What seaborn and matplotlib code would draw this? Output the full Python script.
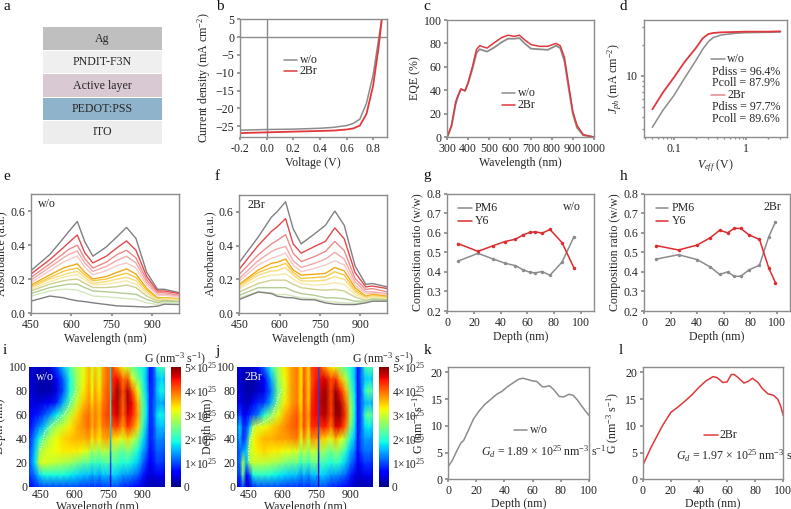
import matplotlib
matplotlib.use("Agg")
import matplotlib.pyplot as plt
import seaborn as sns
import numpy as np
from matplotlib.lines import Line2D
from matplotlib.patches import Rectangle
from matplotlib.ticker import FixedLocator, FixedFormatter, NullFormatter

W, H = 791, 509
FS = 8.6
GREY = "#8c8c8c"
RED = "#e0383c"
DARK = "#262626"

# panel a
layer_names = ["Ag", "PNDIT-F3N", "Active layer", "PEDOT:PSS", "ITO"]
layer_colors = ["#bfbfbf", "#efefef", "#d8c9d3", "#8fb3cb", "#ededed"]

# panel b
v_wo = [-0.2, 0, 0.2, 0.4, 0.5, 0.6, 0.65, 0.7, 0.75, 0.8, 0.84, 0.86, 0.875]
j_wo = [-26.1, -25.9, -25.8, -25.55, -25.3, -24.8, -24.2, -23.0, -18.5, -10.5, -0.8, 4, 8]
v_br = [-0.2, 0, 0.2, 0.4, 0.5, 0.6, 0.65, 0.7, 0.75, 0.8, 0.84, 0.86, 0.875]
j_br = [-26.9, -26.7, -26.5, -26.3, -26.2, -25.9, -25.6, -24.8, -21.5, -13.5, -3.0, 3.5, 8]

# panel c
eqe_nm = [300, 320, 340, 350, 365, 385, 400, 420, 440, 455, 490, 520, 560, 590, 620, 645, 670, 700,
          740, 780, 820, 840, 860, 880, 900, 920, 950, 1000]
eqe_wo = [0, 9, 28, 34, 41, 39.5, 46, 58, 72, 75, 73, 76, 81, 84, 84, 84.5, 80, 75.5, 75, 74.5,
          78, 76, 65, 42, 20, 8, 1.5, 0]
eqe_br = [0, 10, 30, 35, 41, 39.5, 47, 60, 75, 78, 76, 80, 85, 87, 86, 87, 83, 79, 77.5, 77.5,
          80, 78, 68, 45, 22, 10, 2, 0]

# panel d
veff = [0.05, 0.07, 0.1, 0.14, 0.2, 0.25, 0.3, 0.35, 0.45, 0.7, 1, 2, 3]
jph_wo = [3.14, 4.6, 6.46, 9.5, 14.1, 18.3, 21.7, 23.8, 25.2, 26.2, 26.6, 26.8, 27]
jph_br = [4.7, 6.87, 9.7, 13.7, 18.7, 23.4, 25.8, 26.4, 26.8, 27, 27.2, 27.2, 27.4]

# panels e, f
abs_nm = [450, 520, 570, 590, 622, 650, 680, 730, 770, 805, 840, 880, 920, 945, 1000]
abs_colors = ["#808080", "#e0484c", "#ee8a8a", "#f4a9a9", "#f8c8c8", "#f0a818", "#f5c842", "#f8dc80",
              "#f7e8a8", "#ccd08c", "#b4cc94", "#d4e6bc", "#7f7f7f"]
abs_wo = [
    [.25, .345, .44, .48, .54, .42, .335, .39, .45, .505, .44, .24, .14, .14, .12],
    [.23, .315, .385, .415, .46, .355, .295, .335, .385, .425, .37, .215, .13, .13, .115],
    [.21, .29, .35, .375, .40, .32, .265, .30, .345, .37, .325, .195, .12, .12, .105],
    [.195, .27, .325, .345, .365, .295, .245, .275, .31, .335, .295, .18, .11, .11, .10],
    [.18, .25, .30, .315, .335, .27, .225, .25, .28, .295, .265, .165, .105, .105, .095],
    [.165, .225, .265, .275, .29, .24, .20, .215, .24, .26, .23, .145, .09, .09, .085],
    [.155, .21, .245, .255, .265, .225, .19, .20, .22, .235, .21, .135, .085, .09, .08],
    [.15, .20, .225, .235, .245, .21, .175, .185, .20, .21, .19, .125, .08, .085, .08],
    [.14, .185, .21, .22, .225, .195, .165, .17, .18, .19, .17, .115, .075, .08, .075],
    [.13, .17, .19, .195, .20, .175, .15, .15, .155, .165, .15, .10, .07, .075, .07],
    [.115, .15, .165, .17, .17, .15, .13, .125, .12, .115, .11, .08, .06, .07, .065],
    [.10, .13, .14, .14, .135, .12, .10, .095, .09, .085, .08, .06, .05, .06, .06],
    [.07, .10, .09, .082, .072, .067, .06, .05, .042, .04, .038, .035, .04, .052, .05],
]
abs_br = [
    [.30, .45, .57, .60, .66, .50, .41, .47, .52, .605, .52, .28, .17, .175, .155],
    [.26, .40, .485, .51, .56, .41, .355, .395, .425, .505, .44, .24, .155, .16, .145],
    [.23, .345, .41, .43, .465, .355, .305, .335, .365, .425, .37, .205, .14, .145, .125],
    [.205, .31, .365, .38, .395, .31, .27, .295, .32, .36, .32, .185, .125, .125, .115],
    [.19, .285, .325, .335, .355, .285, .245, .265, .285, .31, .285, .165, .115, .115, .11],
    [.17, .255, .295, .30, .32, .255, .225, .23, .235, .27, .25, .15, .10, .11, .10],
    [.165, .24, .27, .275, .295, .24, .205, .21, .215, .245, .225, .135, .095, .105, .095],
    [.155, .225, .25, .25, .27, .225, .19, .19, .195, .215, .20, .125, .09, .10, .09],
    [.145, .205, .225, .225, .235, .20, .175, .165, .17, .18, .17, .11, .085, .095, .085],
    [.125, .175, .195, .195, .195, .17, .15, .14, .135, .14, .13, .095, .075, .085, .08],
    [.105, .15, .15, .15, .15, .13, .115, .105, .09, .09, .085, .07, .07, .08, .075],
    [.09, .125, .12, .11, .11, .10, .09, .085, .07, .065, .06, .058, .065, .075, .07],
    [.08, .125, .115, .10, .092, .09, .08, .078, .06, .052, .05, .05, .06, .07, .07],
]

# panels g, h
depth_g = [8, 23, 34, 43, 51, 57, 62, 66, 71, 77, 86, 95]
pm6_g = [.455, .495, .467, .445, .432, .41, .398, .395, .402, .383, .45, .58]
y6_g = [.545, .505, .533, .555, .567, .59, .602, .605, .598, .617, .55, .42]
depth_h = [9, 26, 40, 50, 57, 63, 68, 73, 79, 87, 94, 99]
pm6_h = [.465, .488, .463, .425, .387, .40, .377, .378, .41, .434, .58, .655]
y6_h = [.535, .512, .537, .575, .613, .60, .623, .622, .59, .566, .42, .345]

# panels i, j: one row per wavelength, depth 0..100 in steps of 10, unit 1e25
map_depth = [0, 10, 20, 30, 40, 50, 60, 70, 80, 90, 100]
map_nm_wo = [400, 425, 445, 465, 490, 520, 550, 580, 610, 640, 665, 678, 690, 710, 725, 745, 755,
             760, 766, 790, 815, 835, 855, 880, 900, 920, 932, 948, 965, 985, 1000]
map_wo = [
    [.6, .9, 1.0, .9, .8, .6, .5, .5, .4, .4, .4],
    [.8, 1.2, 1.7, 1.6, 1.4, 1.0, .7, .4, .3, .3, .3],
    [.9, 1.7, 3.0, 2.6, 1.9, 1.3, .8, .4, .2, .2, .3],
    [1.0, 1.9, 3.1, 3.0, 2.5, 1.6, 1.0, .5, .2, .2, .3],
    [1.0, 1.9, 3.0, 3.1, 2.9, 2.3, 1.3, .5, .2, .2, .4],
    [1.0, 1.9, 2.9, 3.2, 3.2, 2.8, 1.8, .8, .4, .5, .9],
    [1.0, 1.9, 2.8, 3.3, 3.4, 3.0, 2.4, 1.5, 1.0, 1.1, 1.6],
    [1.0, 1.8, 2.7, 3.3, 3.5, 3.3, 2.9, 2.3, 1.9, 1.9, 2.2],
    [1.0, 1.7, 2.5, 3.3, 3.6, 3.6, 3.4, 3.0, 2.7, 2.7, 2.8],
    [.9, 1.6, 2.3, 3.2, 3.6, 3.8, 3.8, 3.5, 3.3, 3.2, 3.1],
    [.9, 1.6, 2.3, 3.0, 3.7, 4.0, 4.0, 3.8, 3.7, 3.6, 3.6],
    [.8, 1.4, 2.0, 2.6, 3.3, 3.6, 3.6, 3.4, 3.2, 3.1, 3.0],
    [.9, 1.6, 2.2, 2.9, 3.6, 3.9, 3.9, 3.8, 3.7, 3.6, 3.5],
    [.8, 1.4, 2.0, 2.6, 3.3, 3.5, 3.6, 3.5, 3.3, 3.1, 3.0],
    [.9, 1.6, 2.2, 2.9, 3.6, 3.9, 4.0, 3.9, 3.8, 3.7, 3.7],
    [.9, 1.6, 2.2, 2.8, 3.7, 4.0, 4.2, 4.1, 4.1, 4.0, 4.0],
    [.9, 1.6, 2.2, 2.8, 3.6, 4.0, 4.2, 4.2, 4.1, 4.0, 4.0],
    [.3, .6, .9, 1.2, 1.5, 1.7, 1.9, 1.9, 1.8, 1.7, 1.7],
    [1.0, 1.7, 2.2, 2.7, 3.4, 4.1, 4.4, 4.5, 4.3, 4.3, 4.2],
    [1.0, 1.6, 2.1, 2.5, 3.3, 4.2, 4.7, 4.8, 4.9, 4.5, 3.7],
    [.8, 1.4, 1.9, 2.3, 3.0, 3.7, 4.0, 4.0, 4.1, 3.9, 3.1],
    [.8, 1.4, 2.0, 2.6, 3.4, 4.3, 4.6, 4.8, 4.8, 4.1, 3.0],
    [.7, 1.3, 1.8, 2.3, 3.0, 4.0, 4.4, 4.5, 4.1, 3.1, 2.4],
    [.6, 1.1, 1.6, 1.9, 2.5, 3.4, 3.7, 3.6, 3.2, 2.5, 2.1],
    [.4, .8, 1.2, 1.5, 1.8, 2.2, 2.4, 2.4, 2.2, 2.0, 1.9],
    [.3, .5, .8, 1.1, 1.3, 1.5, 1.7, 1.7, 1.6, 1.5, 1.6],
    [.2, .4, .6, .7, .8, .8, .8, .8, .8, .7, .7],
    [.2, .4, .7, .8, .9, .9, 1.0, 1.0, .9, .9, .9],
    [.2, .5, .9, 1.1, 1.3, 1.5, 1.7, 1.4, 1.6, 1.5, 1.9],
    [.2, .5, .9, 1.1, 1.3, 1.6, 1.9, 1.5, 1.9, 1.7, 2.2],
    [.2, .5, .8, 1.0, 1.2, 1.5, 1.7, 1.3, 1.7, 1.5, 2.0],
]
map_nm_br = [400, 412, 425, 440, 455, 470, 490, 520, 550, 580, 610, 640, 665, 683, 695, 715, 728,
             748, 755, 760, 766, 790, 815, 835, 855, 880, 900, 920, 932, 948, 965, 985, 1000]
map_br = [
    [.5, .9, 1.0, .9, 1.0, 1.1, .7, .5, .4, .4, .5],
    [.6, .9, 1.2, 1.1, 1.5, 1.7, 1.0, .5, .4, .3, .4],
    [1.0, 2.4, 2.9, 1.4, .8, .9, .6, .3, .3, .3, .3],
    [.3, .6, 1.5, 1.6, 1.2, .9, .6, .3, .2, .2, .3],
    [.4, 1.0, 2.7, 2.9, 2.6, 1.6, .8, .3, .2, .2, .3],
    [.8, 1.9, 3.0, 3.1, 3.2, 2.8, 1.0, .6, .2, .2, .4],
    [1.0, 2.0, 2.9, 3.3, 3.4, 3.1, 1.2, .8, .3, .3, .5],
    [1.0, 2.0, 2.9, 3.4, 3.6, 3.2, 2.0, .9, .5, .6, 1.2],
    [1.0, 1.9, 2.8, 3.3, 3.6, 3.4, 2.6, 1.5, 1.2, 1.5, 2.0],
    [1.0, 1.8, 2.7, 3.3, 3.7, 3.6, 3.1, 2.6, 2.4, 2.6, 2.8],
    [.9, 1.7, 2.5, 3.2, 3.7, 3.8, 3.6, 3.3, 3.1, 3.2, 3.3],
    [.9, 1.6, 2.4, 3.1, 3.8, 4.0, 3.9, 3.7, 3.7, 3.7, 3.7],
    [.9, 1.6, 2.4, 3.1, 3.9, 4.1, 4.1, 3.9, 3.9, 3.9, 3.9],
    [.8, 1.3, 2.0, 2.6, 3.1, 3.5, 3.5, 3.3, 3.3, 3.3, 3.3],
    [.9, 1.6, 2.4, 3.0, 3.8, 4.2, 4.2, 4.2, 4.2, 4.1, 4.1],
    [.8, 1.3, 2.0, 2.6, 3.0, 3.5, 3.6, 3.4, 3.4, 3.4, 3.4],
    [.9, 1.6, 2.4, 3.0, 3.8, 4.3, 4.4, 4.3, 4.2, 4.1, 4.2],
    [.9, 1.6, 2.4, 2.9, 3.7, 4.3, 4.5, 4.5, 4.5, 4.4, 4.3],
    [.9, 1.6, 2.4, 2.9, 3.7, 4.3, 4.5, 4.5, 4.5, 4.4, 4.3],
    [.2, .4, .6, .8, .9, 1.0, 1.0, 1.0, 1.0, 1.0, 1.0],
    [1.0, 1.7, 2.2, 2.8, 3.5, 4.3, 4.6, 4.7, 4.6, 4.5, 4.2],
    [1.0, 1.6, 2.1, 2.6, 3.4, 4.4, 4.8, 4.9, 4.9, 4.6, 3.7],
    [.8, 1.4, 1.9, 2.4, 3.1, 3.9, 4.2, 4.2, 4.2, 4.1, 3.3],
    [.8, 1.4, 2.1, 2.7, 3.6, 4.6, 4.9, 5.0, 4.9, 4.3, 3.1],
    [.7, 1.3, 1.9, 2.5, 3.2, 4.5, 4.9, 4.8, 4.4, 3.6, 2.6],
    [.6, 1.1, 1.6, 2.0, 2.7, 3.9, 4.2, 4.0, 3.6, 2.9, 2.2],
    [.4, .8, 1.2, 1.5, 1.9, 2.5, 2.8, 2.7, 2.4, 2.1, 1.9],
    [.3, .5, .9, 1.2, 1.5, 1.7, 1.8, 1.8, 1.7, 1.6, 1.6],
    [.2, .4, .5, .6, .7, .7, .7, .7, .7, .7, .7],
    [.2, .4, .7, 1.0, 1.1, 1.1, 1.1, 1.1, 1.1, 1.2, 1.2],
    [.2, .5, .9, 1.2, 1.4, 1.7, 2.1, 1.5, 2.0, 1.6, 2.1],
    [.2, .5, .9, 1.2, 1.4, 1.8, 2.5, 1.6, 2.5, 1.7, 2.4],
    [.2, .4, .8, 1.1, 1.3, 1.6, 2.0, 1.4, 2.0, 1.5, 2.0],
]
edge_nm_wo = [447, 457, 469, 499, 528, 558, 587, 609]
edge_depth_wo = [31, 36, 46, 51, 56, 61, 72, 81]
edge_nm_br = [450, 450, 472, 509, 553, 583, 597]
edge_depth_br = [22, 33, 50, 53, 58, 75, 81]

# panels k, l
depth_k = [0, 3, 6, 9, 11, 14, 18, 22, 26, 30, 35, 38, 42, 46, 50, 53, 56, 60, 63, 67, 69, 72, 75, 79,
           82, 86, 89, 92, 95, 100]
g_k = [2.4, 3.6, 5.3, 6.8, 7.3, 9, 11.3, 12.8, 14, 14.9, 16, 16.4, 17.3, 18, 18.7, 18.9, 18.7, 18.4, 18.3,
       17.3, 17.3, 17.5, 16.8, 15.5, 15.4, 15.9, 15.7, 14.8, 13.7, 12]
depth_l = [0, 3, 6, 10, 14, 20, 25, 30, 35, 40, 45, 50, 53, 57, 60, 63, 65, 68, 72, 75, 78, 82, 85, 89,
           93, 96, 98, 100]
g_l = [2.6, 4.3, 6, 8, 10, 12.5, 13.5, 14.6, 15.8, 17.2, 18.4, 19.2, 19, 18.1, 18.2, 19.6, 19.6, 19, 18,
       18.3, 18.9, 18.1, 17, 16, 15.7, 15, 13.8, 11.9]

sns.set_theme(style="ticks")
plt.rcParams.update({
    "font.family": ["Liberation Serif", "DejaVu Serif"],
    "font.size": FS,
    "mathtext.fontset": "custom",
    "mathtext.rm": "Liberation Serif",
    "mathtext.it": "Liberation Serif:italic",
    "mathtext.bf": "Liberation Serif:bold",
    "axes.edgecolor": GREY,
    "axes.linewidth": 1.0,
    "xtick.color": GREY,
    "ytick.color": GREY,
    "xtick.labelcolor": DARK,
    "ytick.labelcolor": DARK,
    "xtick.major.size": 2.5,
    "ytick.major.size": 2.5,
    "xtick.major.pad": 1.5,
    "ytick.major.pad": 1.5,
    "axes.labelpad": 2,
    "axes.labelsize": FS,
    "xtick.labelsize": FS,
    "ytick.labelsize": FS,
    "axes.labelcolor": DARK,
})

fig = plt.figure(figsize=(W / 100, H / 100), dpi=100)


def fx(x):
    return x / W


def fy(y):
    return 1 - y / H


def make_ax(x0, x1, y0, y1):
    return fig.add_axes([fx(x0), fy(y1), (x1 - x0) / W, (y1 - y0) / H])


def put(x, y, s, **kw):
    kw.setdefault("fontsize", FS)
    kw.setdefault("color", DARK)
    kw.setdefault("va", "center")
    fig.text(fx(x), fy(y), s, **kw)


def key(x0, x1, y, color, text, tx, marker=None):
    fig.add_artist(Line2D([fx(x0), fx(x1)], [fy(y), fy(y)], color=color, lw=1.1, marker=marker, ms=2,
                          markevery=[1] if False else None, transform=fig.transFigure))
    put(tx, y, text)


def line(ax, x, y, color, lw=1.1, **kw):
    sns.lineplot(x=x, y=y, color=color, lw=lw, ax=ax, errorbar=None, sort=False, **kw)


# letters
for letter, lx, ly in [("a", 3, 7), ("b", 216, 6), ("c", 423, 6), ("d", 620, 6),
                       ("e", 3, 176), ("f", 215, 176), ("g", 423, 176), ("h", 620, 176),
                       ("i", 3, 351), ("j", 215, 351), ("k", 424, 351), ("l", 619, 351)]:
    put(lx, ly, letter, fontsize=11, color="#111111")

# a: device stack
ax = make_ax(43, 162, 27, 144)
ax.set_xlim(0, 1)
ax.set_ylim(len(layer_names), 0)
ax.axis("off")
for i, (name, col) in enumerate(zip(layer_names, layer_colors)):
    ax.add_patch(Rectangle((0, i + 0.015), 1, 0.97, color=col, lw=0))
    ax.text(0.5, i + 0.5, name, ha="center", va="center", color=DARK, fontsize=FS)

# b
ax = make_ax(240, 386.5, 19.3, 137)
ax.axhline(0, color=GREY, lw=1)
ax.axvline(0, color=GREY, lw=1)
line(ax, v_wo, j_wo, GREY)
line(ax, v_br, j_br, RED, lw=1.3)
ax.set_xlim(-0.2, 0.9)
ax.set_ylim(-28, 5)
ax.set_xticks([-0.2, 0, 0.2, 0.4, 0.6, 0.8])
ax.set_xticklabels(["-0.2", "0.0", "0.2", "0.4", "0.6", "0.8"])
ax.set_yticks([5, 0, -5, -10, -15, -20, -25])
ax.set_xlabel("Voltage (V)")
ax.set_ylabel("Current density (mA cm$^{-2}$)")
key(284, 297, 60, GREY, "w/o", 300)
key(284, 297, 71, RED, "2Br", 300)

# c
ax = make_ax(447.3, 593.7, 20, 137)
line(ax, eqe_nm, eqe_wo, GREY, lw=1.3)
line(ax, eqe_nm, eqe_br, RED)
ax.set_xlim(300, 1000)
ax.set_ylim(0, 100)
ax.set_xticks(range(300, 1001, 100))
ax.set_yticks(range(0, 101, 20))
ax.set_xlabel("Wavelength (nm)")
ax.set_ylabel("EQE (%)")
key(502, 515, 93, GREY, "w/o", 518)
key(502, 515, 105, RED, "2Br", 518)

# d
ax = make_ax(644, 786.7, 20, 137)
line(ax, veff, jph_wo, GREY)
line(ax, veff, jph_br, RED, lw=1.3)
ax.set_xscale("log")
ax.set_yscale("log")
ax.set_xlim(0.0383, 3.67)
ax.set_ylim(2.52, 35.4)
ax.xaxis.set_major_locator(FixedLocator([0.1, 1]))
ax.xaxis.set_major_formatter(FixedFormatter(["0.1", "1"]))
ax.xaxis.set_minor_locator(FixedLocator([0.04, 0.05, 0.06, 0.07, 0.08, 0.09, 0.2, 0.3, 0.4, 0.5, 0.6, 0.7, 0.8, 0.9, 2, 3]))
ax.xaxis.set_minor_formatter(NullFormatter())
ax.yaxis.set_major_locator(FixedLocator([10]))
ax.yaxis.set_major_formatter(FixedFormatter(["10"]))
ax.yaxis.set_minor_locator(FixedLocator([3, 4, 5, 6, 7, 8, 9, 20, 30]))
ax.yaxis.set_minor_formatter(NullFormatter())
ax.tick_params(which="minor", length=1.5, color=GREY)
ax.set_xlabel("$V_{eff}$ (V)")
ax.set_ylabel("$J_{ph}$ (mA cm$^{-2}$)")
key(711, 725, 59, GREY, "w/o", 727)
put(712, 72, "Pdiss = 96.4%")
put(712, 83, "Pcoll = 87.9%")
key(711, 725, 95, "#e8858a", "2Br", 727)
put(712, 107, "Pdiss = 97.7%")
put(712, 119, "Pcoll = 89.6%")


# e, f
def absorbance(box, rows, label, lx, ly):
    ax = make_ax(*box)
    for col, row in zip(abs_colors, rows):
        line(ax, abs_nm, row, col, lw=1.0)
    ax.set_xlim(450, 1000)
    ax.set_ylim(0, 0.7)
    ax.set_xticks([450, 600, 750, 900])
    ax.set_yticks([0, 0.2, 0.4, 0.6])
    ax.set_xlabel("Wavelength (nm)")
    ax.set_ylabel("Absorbance (a.u.)")
    put(lx, ly, label)


absorbance((31, 179, 194.3, 313), abs_wo, "w/o", 38, 204)
absorbance((239.3, 387.3, 195, 313), abs_br, "2Br", 247, 205)


# g, h
def composition(box, depth, pm6, y6, label, lx, kx0, kx1, tx):
    ax = make_ax(*box)
    line(ax, depth, pm6, GREY, marker="o", ms=2.5, mec="none")
    line(ax, depth, y6, "#dc2c30", marker="o", ms=2.5, mec="none")
    ax.set_xlim(0, 110)
    ax.set_ylim(0.2, 0.8)
    ax.set_xticks(range(0, 101, 20))
    ax.set_yticks([0.2, 0.3, 0.4, 0.5, 0.6, 0.7, 0.8])
    ax.set_xlabel("Depth (nm)")
    ax.set_ylabel("Composition ratio (w/w)")
    key(kx0, kx1, 208, GREY, "PM6", tx)
    key(kx0, kx1, 221, "#dc2c30", "Y6", tx)
    put(lx, 207, label)


composition((447.3, 594, 193.7, 311), depth_g, pm6_g, y6_g, "w/o", 563, 458, 472, 475)
composition((644, 790, 193.7, 311), depth_h, pm6_h, y6_h, "2Br", 764, 656, 668, 672)


# i, j
def gen_map(box, cbox, nm, grid, edge_x, edge_y, label, lx, cx):
    ax = make_ax(*box)
    z = np.array(grid).T
    mesh = ax.pcolormesh(nm, map_depth, z, cmap="jet", vmin=0, vmax=5, shading="gouraud", rasterized=True)
    ax.plot(edge_x, edge_y, color="white", lw=0.8, ls=(0, (1, 1.5)))
    ax.set_xlim(400, 1000)
    ax.set_ylim(0, 100)
    ax.set_xticks([450, 600, 750, 900])
    ax.set_yticks(range(0, 101, 20))
    ax.set_xlabel("Wavelength (nm)", labelpad=0)
    ax.set_ylabel("Depth (nm)")
    ax.tick_params(length=0)
    for s in ax.spines.values():
        s.set_visible(False)
    put(lx, 377, label, color="#f0f0f0")
    cax = make_ax(*cbox)
    cb = fig.colorbar(mesh, cax=cax)
    cb.set_ticks([0, 1, 2, 3, 4, 5])
    cb.set_ticklabels(["0"] + [f"{v}$\\times$10$^{{25}}$" for v in range(1, 6)])
    cb.ax.tick_params(length=0, pad=2, labelsize=FS - 0.3)
    cb.outline.set_visible(False)
    put(cx, 359, "G (nm$^{-3}$ s$^{-1}$)", ha="center")


gen_map((29.3, 165, 366.7, 486.7), (170.7, 181, 366.7, 486.7), map_nm_wo, map_wo, edge_nm_wo, edge_depth_wo,
        "w/o", 36, 175)
gen_map((237.3, 373, 366.7, 486.7), (379, 389.3, 366.7, 486.7), map_nm_br, map_br, edge_nm_br, edge_depth_br,
        "2Br", 245, 383)


# k, l
def gen_profile(box, depth, g, color, label, kx0, kx1, ky, tx, gd, gx, gy):
    ax = make_ax(*box)
    line(ax, depth, g, color)
    ax.set_xlim(0, 100)
    ax.set_ylim(0, 21)
    ax.set_xticks(range(0, 101, 20))
    ax.set_yticks([0, 5, 10, 15, 20])
    ax.set_xlabel("Depth (nm)", labelpad=1)
    ax.set_ylabel("G (nm$^{-3}$ s$^{-1}$)")
    key(kx0, kx1, ky, color, label, tx)
    put(gx, gy, f"$G_d$ = {gd} $\\times$ 10$^{{25}}$ nm$^{{-3}}$ s$^{{-1}}$")


gen_profile((448.3, 588.7, 367, 479.3), depth_k, g_k, GREY, "w/o", 514, 527, 430, 530, "1.89", 481, 452)
gen_profile((642.7, 783.3, 367, 479.3), depth_l, g_l, RED, "2Br", 704, 718, 435, 720, "1.97", 676, 456)

fig.savefig("out.png", dpi=100)
